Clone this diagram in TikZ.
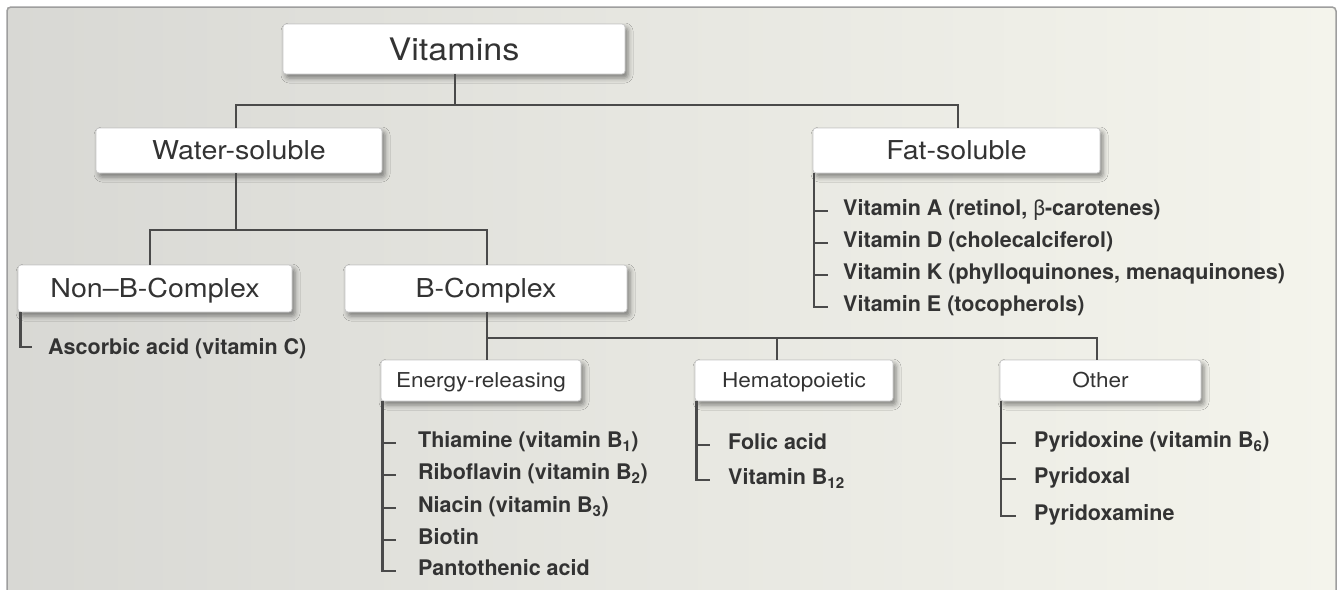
\documentclass[tikz,border=0pt]{standalone}
\usepackage{fontspec}
\setmainfont{TeX Gyre Heros}
\newfontfamily\hfont{TeX Gyre Heros}[FakeStretch=1.1]
\usetikzlibrary{shadows.blur}
\definecolor{bgL}{HTML}{D8D8D4}
\definecolor{bgM}{HTML}{E7E7E1}
\definecolor{bgR}{HTML}{F4F4EC}
\definecolor{ink}{HTML}{333333}
\definecolor{linec}{HTML}{4A4A4A}
\begin{document}
\begin{tikzpicture}[x=1pt,y=-1pt,
  box/.style={draw=black!22, line width=0.8pt, fill=white, rounded corners=3pt, inner sep=0pt, text=ink,
    blur shadow={shadow xshift=3pt, shadow yshift=-4pt, shadow blur radius=5pt, shadow opacity=45}},
  bigbox/.style={box, font=\hfont\fontsize{31}{31}\selectfont, text height=22.3pt, text depth=0pt},
  midbox/.style={box, font=\hfont\fontsize{26}{26}\selectfont, text height=18.7pt, text depth=0pt},
  smallbox/.style={box, font=\hfont\fontsize{20.5}{20.5}\selectfont, text height=14.7pt, text depth=0pt},
  item/.style={anchor=west, inner sep=0pt, text=ink, font=\bfseries\fontsize{21.5}{21.5}\selectfont, text height=15.5pt, text depth=0pt},
  conn/.style={draw=linec, line width=2.8pt},
]
\useasboundingbox (0,0) rectangle (1341,589);
\fill[white] (0,0) rectangle (1341,589);
\shade[left color=bgL, right color=bgR, middle color=bgM] (7,7) rectangle (1336,600);
\draw[black!38, line width=1.5pt, rounded corners=4pt] (7,600) |- (1336,7) -- (1336,600);

% boxes
\node[bigbox, minimum width=342pt, minimum height=50pt] (vit) at (454,49) {Vitamins};
\node[midbox, minimum width=286pt, minimum height=45pt] (ws) at (239,150.5) {Water-soluble};
\node[midbox, minimum width=287pt, minimum height=45pt] (fs) at (956.5,150.5) {Fat-soluble};
\node[midbox, minimum width=274pt, minimum height=47pt] (nonb) at (155,288.5) {Non–B-Complex};
\node[midbox, minimum width=282pt, minimum height=47pt] (bc) at (486,288.5) {B-Complex};
\node[smallbox, minimum width=200pt, minimum height=41pt] (er) at (481,380.5) {Energy-releasing};
\node[smallbox, minimum width=198pt, minimum height=41pt] (hem) at (794,380.5) {Hematopoietic};
\node[smallbox, minimum width=201pt, minimum height=41pt] (oth) at (1100.5,380.5) {Other};

% tree connectors
\coordinate (j1) at (455,105);
\coordinate (j2) at (236,230);
\coordinate (j3) at (487,338);
\draw[conn] (vit.south -| j1) -- (j1);
\draw[conn] ([xshift=-3pt]ws.north) |- (j1) -| ([xshift=1.5pt]fs.north);
\draw[conn] (ws.south -| j2) -- (j2);
\draw[conn] ([xshift=-5pt]nonb.north) |- (j2) -| ([xshift=1pt]bc.north);
\draw[conn] (bc.south -| j3) -- ([xshift=6pt]er.north);
\draw[conn] (j3) -| ([xshift=-17pt]hem.north);
\draw[conn] (j3) -| ([xshift=-3.5pt]oth.north);

% fat-soluble items
\node[item] (fa) at (843,208) {Vitamin A (retinol, {\mdseries β}-carotenes)};
\node[item] (fd) at (843,240) {Vitamin D (cholecalciferol)};
\node[item] (fk) at (843,272) {Vitamin K (phylloquinones, menaquinones)};
\node[item] (fe) at (843,304) {Vitamin E (tocopherols)};
\coordinate (fsb) at ([xshift=1.4pt]fs.south west);
\draw[conn] (fsb) |- ([xshift=-15pt,yshift=-3pt]fe.west);
\foreach \n in {fa,fd,fk} \draw[conn] ([yshift=-3pt]\n.west -| fsb) -- ([xshift=-15pt,yshift=-3pt]\n.west);

% non-B items
\node[item] (asc) at (48,347) {Ascorbic acid (vitamin C)};
\coordinate (nbb) at ([xshift=3pt]nonb.south west);
\draw[conn] (nbb) |- ([xshift=-16pt]asc.west);

% energy-releasing items
\node[item] (e1) at (418,440) {Thiamine (vitamin B\textsubscript{1})};
\node[item] (e2) at (418,472) {Riboflavin (vitamin B\textsubscript{2})};
\node[item] (e3) at (418,505) {Niacin (vitamin B\textsubscript{3})};
\node[item] (e4) at (418,537) {Biotin};
\node[item] (e5) at (418,568) {Pantothenic acid};
\coordinate (erb) at ([xshift=2pt]er.south west);
\draw[conn] (erb) |- ([xshift=-22pt,yshift=-3pt]e5.west);
\foreach \n in {e1,e2,e3,e4} \draw[conn] ([yshift=-3pt]\n.west -| erb) -- ([xshift=-22pt,yshift=-3pt]\n.west);

% hematopoietic items
\node[item] (h1) at (728,442) {Folic acid};
\node[item] (h2) at (728,477) {Vitamin B\textsubscript{12}};
\coordinate (hb) at ([xshift=1.5pt]hem.south west);
\draw[conn] (hb) |- ([xshift=-18pt,yshift=-3pt]h2.west);
\draw[conn] ([yshift=-3pt]h1.west -| hb) -- ([xshift=-18pt,yshift=-3pt]h1.west);

% other items
\node[item] (o1) at (1034,440) {Pyridoxine (vitamin B\textsubscript{6})};
\node[item] (o2) at (1034,476) {Pyridoxal};
\node[item] (o3) at (1034,513) {Pyridoxamine};
\coordinate (ob) at ([xshift=1.4pt]oth.south west);
\draw[conn] (ob) |- ([xshift=-18pt,yshift=-3pt]o3.west);
\foreach \n in {o1,o2} \draw[conn] ([yshift=-3pt]\n.west -| ob) -- ([xshift=-18pt,yshift=-3pt]\n.west);
\end{tikzpicture}
\end{document}
